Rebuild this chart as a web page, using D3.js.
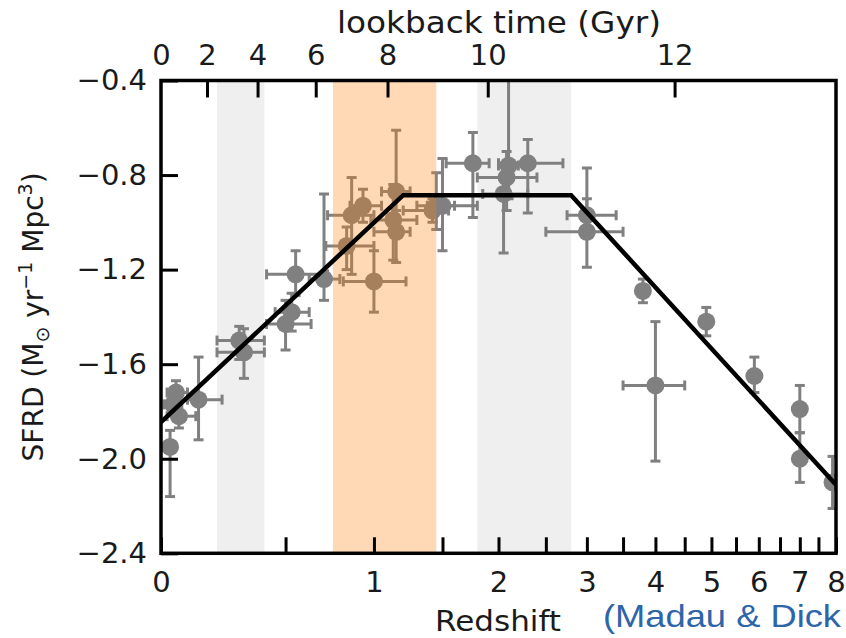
<!DOCTYPE html>
<html>
<head>
<meta charset="utf-8">
<script src="https://cdn.jsdelivr.net/npm/d3@7"></script>
<style>
  body { margin: 0; background: #fff; }
  svg { display: block; }
  .tick text { font-family: "DejaVu Sans", sans-serif; font-size: 29px; fill: #1a1a1a; }
</style>
</head>
<body>
<svg id="chart" width="846" height="638"></svg>
<script>
// Cosmic star-formation-rate density compilation: log10 SFRD vs redshift
const redshift = [0.03, 0.05, 0.06, 0.04, 0.13, 0.29, 0.31, 0.50, 0.53, 0.55, 0.70,
                  0.86, 0.83, 1.00, 1.13, 1.15, 1.15, 0.93, 1.45, 1.50, 1.42,
                  1.76, 2.10, 2.30, 2.05, 2.08, 3.00, 3.00, 3.80, 4.00, 4.90, 5.90, 7.00, 7.00, 7.90];
const sfrd     = [-1.95, -1.72, -1.82, -1.77, -1.75, -1.50, -1.55, -1.43, -1.38, -1.22, -1.24,
                  -0.97, -1.10, -1.25, -0.99, -1.04, -0.87, -0.93, -0.93, -0.93, -0.95,
                  -0.75, -0.76, -0.75, -0.88, -0.81, -1.04, -0.97, -1.29, -1.69, -1.42, -1.65, -1.79, -2.00, -2.10];
const zLow     = [0.01, 0.02, 0.02, 0.01, 0.09, 0.20, 0.20, 0.41, 0.45, 0.41, 0.62,
                  0.72, 0.71, 0.81, 0.98, 1.00, 1.05, 0.85, 1.30, 1.38, 1.20,
                  1.53, 2.00, 2.00, 1.85, 1.80, 2.50, 2.75, 3.80, 3.50, 4.90, 5.90, 7.00, 7.00, 7.90];
const zHigh    = [0.05, 0.09, 0.12, 0.07, 0.22, 0.40, 0.40, 0.63, 0.62, 0.72, 0.79,
                  1.00, 1.00, 1.22, 1.30, 1.25, 1.25, 1.05, 1.60, 1.80, 1.55,
                  1.91, 2.20, 2.70, 2.30, 2.40, 3.50, 3.40, 3.80, 4.50, 4.90, 5.90, 7.00, 7.00, 7.90];
const sfrdLow  = [-2.16, -1.78, -1.87, -1.81, -1.92, -1.58, -1.66, -1.54, -1.46, -1.31, -1.33,
                  -1.22, -1.20, -1.38, -1.16, -1.17, -1.00, -1.00, -1.03, -1.12, -1.00,
                  -0.98, -0.90, -0.96, -1.13, -0.95, -1.19, -1.05, -1.34, -2.01, -1.48, -1.72, -1.89, -2.10, -2.21];
const sfrdHigh = [-1.88, -1.67, -1.76, -1.73, -1.57, -1.44, -1.45, -1.33, -1.30, -1.12, -0.88,
                  -0.81, -1.02, -1.12, -0.84, -0.95, -0.61, -0.86, -0.79, -0.73, -0.90,
                  -0.62, -0.30, -0.65, -0.75, -0.70, -0.77, -0.90, -1.24, -1.42, -1.36, -1.57, -1.69, -1.89, -1.99];

// Piecewise model curve (rise, plateau, decline)
const modelZ    = [0, 1.2, 2.8, 8];
const modelSfrd = [-1.845, -0.885, -0.885, -2.11];

// Highlighted redshift windows
const grayBands   = [[0.2, 0.4], [1.8, 2.8]];
const orangeBand  = [0.75, 1.45];

// Axis ticks
const zTicks        = [0, 0.5, 1, 1.5, 2, 2.5, 3, 3.5, 4, 4.5, 5, 5.5, 6, 6.5, 7, 7.5, 8];
const sfrdTicks     = [-0.4, -0.8, -1.2, -1.6, -2.0, -2.4];
const lookbackTicks = [0, 2, 4, 6, 8, 10, 12];

// Flat LambdaCDM lookback time in Gyr
function lookbackTime(z, H0 = 70.5, Om = 0.3) {
  const tH = 977.8 / H0, n = 400, h = z / n;
  const f = t => 1 / ((1 + t) * Math.sqrt(Om * Math.pow(1 + t, 3) + (1 - Om)));
  let s = f(0) + f(z);
  for (let i = 1; i < n; i++) s += (i % 2 ? 4 : 2) * f(i * h);
  return tH * s * h / 3;
}
function redshiftAt(t) {
  let lo = 0, hi = 30;
  for (let i = 0; i < 60; i++) {
    const mid = (lo + hi) / 2;
    if (lookbackTime(mid) < t) lo = mid; else hi = mid;
  }
  return (lo + hi) / 2;
}

const W = 846, H = 638;
const margin = { left: 161, right: 10, top: 80.5, bottom: 84.7 };
const x0 = margin.left, x1 = W - margin.right, y0 = margin.top, y1 = H - margin.bottom;

const svg = d3.select("#chart");
// log(1+z) axis
const xs = d3.scaleLog().domain([1, 9]).range([x0, x1]);
const x = z => xs(1 + z);
const y = d3.scaleLinear().domain([-2.4, -0.4]).range([y1, y0]);

svg.append("defs").append("clipPath").attr("id", "plotClip")
  .append("rect").attr("x", x0).attr("y", y0).attr("width", x1 - x0).attr("height", y1 - y0);

const plot = svg.append("g").attr("clip-path", "url(#plotClip)");

plot.selectAll("rect.gband").data(grayBands).join("rect")
  .attr("class", "gband")
  .attr("x", d => x(d[0])).attr("width", d => x(d[1]) - x(d[0]))
  .attr("y", y0).attr("height", y1 - y0)
  .attr("fill", "#efefef");

const pts = redshift.map((z, i) => ({
  z, v: sfrd[i], zl: zLow[i], zh: zHigh[i], vl: sfrdLow[i], vh: sfrdHigh[i]
}));

const ptColor = "#808080";
const cap = 5;
const eb = plot.append("g").attr("stroke", ptColor).attr("stroke-width", 3).attr("fill", "none");
pts.forEach(p => {
  const cx = x(p.z), cy = y(p.v);
  if (p.vh > p.vl) {
    eb.append("line").attr("x1", cx).attr("x2", cx).attr("y1", y(p.vl)).attr("y2", y(p.vh));
    [p.vl, p.vh].forEach(v => eb.append("line")
      .attr("x1", cx - cap).attr("x2", cx + cap).attr("y1", y(v)).attr("y2", y(v)));
  }
  if (p.zh > p.zl) {
    eb.append("line").attr("x1", x(p.zl)).attr("x2", x(p.zh)).attr("y1", cy).attr("y2", cy);
    [p.zl, p.zh].forEach(z => eb.append("line")
      .attr("x1", x(z)).attr("x2", x(z)).attr("y1", cy - cap).attr("y2", cy + cap));
  }
});
plot.append("g").selectAll("circle").data(pts).join("circle")
  .attr("cx", d => x(d.z)).attr("cy", d => y(d.v)).attr("r", 9)
  .attr("fill", ptColor);

// translucent orange window over the points
plot.append("rect")
  .attr("x", x(orangeBand[0])).attr("width", x(orangeBand[1]) - x(orangeBand[0]))
  .attr("y", y0).attr("height", y1 - y0)
  .attr("fill", "#ff7f0e").attr("fill-opacity", 0.3);

plot.append("path")
  .datum(modelZ.map((z, i) => [z, modelSfrd[i]]))
  .attr("d", d3.line().x(d => x(d[0])).y(d => y(d[1])))
  .attr("fill", "none").attr("stroke", "#000").attr("stroke-width", 4.5)
  .attr("stroke-linejoin", "miter");

// Axes (ticks point inward)
const fmtZ = d => {
  const z = Math.round((d - 1) * 10) / 10;
  return Number.isInteger(z) ? String(z) : "";
};
const bottomAxis = d3.axisBottom(xs).tickValues(zTicks.map(z => 1 + z))
  .tickFormat(fmtZ).tickSizeInner(-16).tickSizeOuter(0).tickPadding(18);
const topZ = lookbackTicks.map(t => 1 + redshiftAt(t));
const topAxis = d3.axisTop(xs).tickValues(topZ)
  .tickFormat((d, i) => String(lookbackTicks[i])).tickSizeInner(-17).tickSizeOuter(0).tickPadding(15.5);
const leftAxis = d3.axisLeft(y).tickValues(sfrdTicks)
  .tickFormat(d3.format(".1f")).tickSizeInner(-17).tickSizeOuter(0).tickPadding(14);

function styleAxis(g) {
  g.select(".domain").remove();
  g.selectAll(".tick line").attr("stroke", "#000").attr("stroke-width", 3);
}
svg.append("g").attr("transform", `translate(0,${y1})`).call(bottomAxis).call(styleAxis);
svg.append("g").attr("transform", `translate(0,${y0})`).call(topAxis).call(styleAxis)
  .selectAll(".tick").filter((d, i) => i === 0).select("line").remove();
svg.append("g").attr("transform", `translate(${x0},0)`).call(leftAxis).call(styleAxis);

// frame
svg.append("rect").attr("x", x0).attr("y", y0).attr("width", x1 - x0).attr("height", y1 - y0)
  .attr("fill", "none").attr("stroke", "#000").attr("stroke-width", 3.5);

// axis titles
const family = "DejaVu Sans, sans-serif";
svg.append("text").attr("x", 499).attr("y", 33)
  .attr("text-anchor", "middle").attr("font-family", family)
  .attr("font-size", 30).attr("fill", "#1a1a1a")
  .attr("textLength", 324).attr("lengthAdjust", "spacingAndGlyphs")
  .text("lookback time (Gyr)");
svg.append("text").attr("x", 498).attr("y", 631)
  .attr("text-anchor", "middle").attr("font-family", family)
  .attr("font-size", 28.5).attr("fill", "#1a1a1a")
  .attr("textLength", 126).attr("lengthAdjust", "spacingAndGlyphs")
  .text("Redshift");

const yl = svg.append("text")
  .attr("transform", `translate(43,${(y0 + y1) / 2}) rotate(-90)`)
  .attr("text-anchor", "middle").attr("font-family", family)
  .attr("font-size", 28).attr("fill", "#1a1a1a");
yl.append("tspan").text("SFRD (M");
yl.append("tspan").attr("font-size", 19).attr("dy", 6).text("\u2299");
yl.append("tspan").attr("dy", -6).text(" yr");
yl.append("tspan").attr("font-size", 19).attr("dy", -11).text("\u22121");
yl.append("tspan").attr("dy", 11).text(" Mpc");
yl.append("tspan").attr("font-size", 19).attr("dy", -11).text("3");
yl.append("tspan").attr("dy", 11).text(")");

svg.append("text").attr("x", 603).attr("y", 627)
  .attr("font-family", "Liberation Sans, Arial, sans-serif").attr("font-size", 32)
  .attr("textLength", 238).attr("lengthAdjust", "spacingAndGlyphs")
  .attr("fill", "#2e64a8").text("(Madau & Dick");
</script>
</body>
</html>
